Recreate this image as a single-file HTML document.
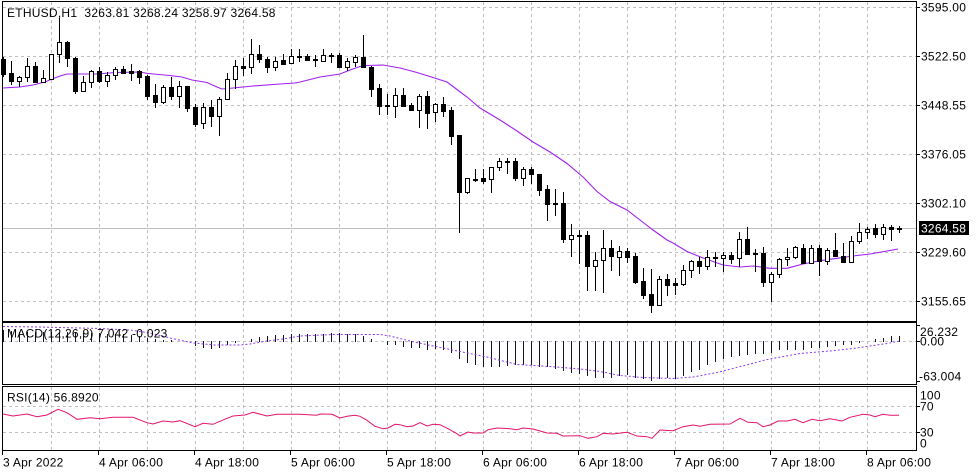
<!DOCTYPE html>
<html><head><meta charset="utf-8"><style>
html,body{margin:0;padding:0;background:#fff;}
svg{display:block;}
text{font-family:"Liberation Sans",Arial,sans-serif;font-size:12px;letter-spacing:.25px;fill:#000;}
.g{stroke:#c0c0c0;stroke-width:1;stroke-dasharray:3 3;fill:none;}
.w{fill:#fff;stroke:#000;stroke-width:1;}
</style></head><body>
<svg width="980" height="475" viewBox="0 0 980 475" xmlns="http://www.w3.org/2000/svg">
<rect width="980" height="475" fill="#fff"/>
<path class="g" d="M3 7.5H916M3 56.5H916M3 105.5H916M3 154.5H916M3 203.5H916M3 252.5H916M3 301.5H916"/>
<path class="g" d="M51.5 2V321M99.5 2V321M147.5 2V321M195.5 2V321M243.5 2V321M291.5 2V321M339.5 2V321M387.5 2V321M435.5 2V321M483.5 2V321M531.5 2V321M579.5 2V321M627.5 2V321M675.5 2V321M723.5 2V321M771.5 2V321M819.5 2V321M867.5 2V321"/>
<path class="g" d="M3 341.5H916"/>
<path class="g" d="M51.5 323V384M99.5 323V384M147.5 323V384M195.5 323V384M243.5 323V384M291.5 323V384M339.5 323V384M387.5 323V384M435.5 323V384M483.5 323V384M531.5 323V384M579.5 323V384M627.5 323V384M675.5 323V384M723.5 323V384M771.5 323V384M819.5 323V384M867.5 323V384"/>
<path class="g" d="M3 406.5H916M3 432.5H916"/>
<path class="g" d="M51.5 387V450M99.5 387V450M147.5 387V450M195.5 387V450M243.5 387V450M291.5 387V450M339.5 387V450M387.5 387V450M435.5 387V450M483.5 387V450M531.5 387V450M579.5 387V450M627.5 387V450M675.5 387V450M723.5 387V450M771.5 387V450M819.5 387V450M867.5 387V450"/>
<path d="M3 228.5H916" stroke="#c0c0c0" stroke-width="1"/>
<polyline fill="none" stroke="#a020f0" stroke-width="1.1" points="3,88 20,87 33,85 45,82 52,79 60,76 67,74 97,74 115,72.5 140,72 148,73.5 170,75.5 182,77 192,80 207,82.5 217,87 222,89 233,88 253,86 280,84 295,83 300,82 320,77 340,74 350,70 360,66.5 367,65.5 383,65 400,68 417,72.5 433,77.5 447,82 453,86.5 467,97 480,108 500,120 517,131 533,142 550,152 567,163.5 583,177 597,191.5 610,201.5 627,210 640,220 653,230 667,240 673,243 687,251.5 703,258 723,265 740,267 753,266 770,268.3 787,268.3 803,264 820,260.7 837,258.3 853,256 870,254 887,251 898,249"/>
<path stroke="#000" stroke-width="1" fill="none" d="M3.5 57V77M11.5 61V85M19.5 76V87M27.5 58V82M35.5 62V83M43.5 70V83M51.5 54V79M59.5 18V63M67.5 41V67M75.5 57V94M83.5 76V91M91.5 70V88M99.5 67V83M107.5 72V87M115.5 67V80M123.5 66V74M131.5 64V81M139.5 70V84M147.5 75V100M155.5 84V108M163.5 85V104M171.5 77V100M179.5 81V108M187.5 86V112M195.5 104V127M203.5 103V129M211.5 100V127M219.5 97V136M227.5 73V100M235.5 60V89M243.5 58V76M251.5 39V74M259.5 45V63M267.5 57V73M275.5 57V71M283.5 54V65M291.5 49V63M299.5 49V62M307.5 54V61M315.5 55V67M323.5 49V62M331.5 53V63M339.5 53V68M347.5 58V71M355.5 55V67M363.5 35V68M371.5 66V97M379.5 84V115M387.5 94V115M395.5 88V118M403.5 88V107M411.5 103V111M419.5 94V128M427.5 91V129M435.5 103V122M443.5 97V117M451.5 107V145M459.5 135V233M467.5 178V194M475.5 169V182M483.5 169V184M491.5 167V193M499.5 158V171M507.5 158V174M515.5 158V181M523.5 167V186M531.5 167V184M539.5 174V196M547.5 185V221M555.5 189V216M563.5 192V243M571.5 224V257M579.5 230V264M587.5 231V291M595.5 252V291M603.5 230V293M611.5 240V271M619.5 246V276M627.5 248V263M635.5 253V284M643.5 268V299M651.5 269V313M659.5 276V305M667.5 274V296M675.5 278V295M683.5 265V286M691.5 260V278M699.5 257V274M707.5 250V270M715.5 252V267M723.5 252V272M731.5 252V264M739.5 232V267M747.5 227V255M755.5 249V272M763.5 247V287M771.5 272V302M779.5 258V278M787.5 248V266M795.5 246V259M803.5 244V263M811.5 245V263M819.5 245V276M827.5 248V265M835.5 233V257M843.5 243V263M851.5 236V263M859.5 223V244M867.5 227V239M875.5 224V238M883.5 224V240M891.5 225V241M899.5 226V233"/>
<g fill="#000">
<rect x="1" y="59" width="5" height="16"/>
<rect x="9" y="73" width="5" height="9"/>
<rect x="33" y="66" width="5" height="17"/>
<rect x="65" y="42" width="5" height="17"/>
<rect x="73" y="58" width="5" height="34"/>
<rect x="97" y="71" width="5" height="11"/>
<rect x="121" y="69" width="5" height="5"/>
<rect x="129" y="71" width="5" height="3"/>
<rect x="137" y="71" width="5" height="7"/>
<rect x="145" y="76" width="5" height="21"/>
<rect x="153" y="95" width="5" height="8"/>
<rect x="169" y="87" width="5" height="10"/>
<rect x="185" y="86" width="5" height="23"/>
<rect x="193" y="107" width="5" height="18"/>
<rect x="209" y="107" width="5" height="10"/>
<rect x="241" y="66" width="5" height="3"/>
<rect x="257" y="54" width="5" height="6"/>
<rect x="265" y="59" width="5" height="9"/>
<rect x="281" y="60" width="5" height="5"/>
<rect x="297" y="56" width="5" height="2"/>
<rect x="305" y="56" width="5" height="5"/>
<rect x="313" y="59" width="5" height="2"/>
<rect x="329" y="55" width="5" height="2"/>
<rect x="337" y="55" width="5" height="13"/>
<rect x="361" y="57" width="5" height="11"/>
<rect x="369" y="67" width="5" height="23"/>
<rect x="377" y="88" width="5" height="19"/>
<rect x="385" y="105" width="5" height="2"/>
<rect x="401" y="95" width="5" height="12"/>
<rect x="409" y="105" width="5" height="6"/>
<rect x="425" y="96" width="5" height="18"/>
<rect x="441" y="104" width="5" height="8"/>
<rect x="449" y="110" width="5" height="27"/>
<rect x="457" y="135" width="5" height="58"/>
<rect x="473" y="179" width="5" height="2"/>
<rect x="481" y="178" width="5" height="4"/>
<rect x="505" y="161" width="5" height="2"/>
<rect x="513" y="161" width="5" height="18"/>
<rect x="529" y="169" width="5" height="6"/>
<rect x="537" y="174" width="5" height="17"/>
<rect x="545" y="189" width="5" height="16"/>
<rect x="553" y="203" width="5" height="2"/>
<rect x="561" y="203" width="5" height="37"/>
<rect x="577" y="235" width="5" height="2"/>
<rect x="585" y="235" width="5" height="32"/>
<rect x="609" y="248" width="5" height="9"/>
<rect x="625" y="251" width="5" height="7"/>
<rect x="633" y="256" width="5" height="27"/>
<rect x="641" y="281" width="5" height="15"/>
<rect x="649" y="294" width="5" height="12"/>
<rect x="665" y="279" width="5" height="7"/>
<rect x="673" y="283" width="5" height="3"/>
<rect x="697" y="261" width="5" height="6"/>
<rect x="713" y="257" width="5" height="2"/>
<rect x="729" y="255" width="5" height="5"/>
<rect x="745" y="239" width="5" height="16"/>
<rect x="753" y="253" width="5" height="2"/>
<rect x="761" y="253" width="5" height="30"/>
<rect x="801" y="248" width="5" height="16"/>
<rect x="817" y="248" width="5" height="14"/>
<rect x="833" y="250" width="5" height="7"/>
<rect x="841" y="256" width="5" height="7"/>
<rect x="873" y="228" width="5" height="7"/>
<rect x="889" y="227" width="5" height="3"/>
<rect x="897" y="228" width="5" height="2"/>
</g>
<g class="w">
<rect x="17.5" y="77.5" width="4" height="4"/>
<rect x="25.5" y="66.5" width="4" height="11"/>
<rect x="41.5" y="78.5" width="4" height="4"/>
<rect x="49.5" y="54.5" width="4" height="25"/>
<rect x="57.5" y="42.5" width="4" height="12"/>
<rect x="81.5" y="82.5" width="4" height="9"/>
<rect x="89.5" y="71.5" width="4" height="11"/>
<rect x="105.5" y="75.5" width="4" height="6"/>
<rect x="113.5" y="69.5" width="4" height="6"/>
<rect x="161.5" y="87.5" width="4" height="15"/>
<rect x="177.5" y="86.5" width="4" height="10"/>
<rect x="201.5" y="107.5" width="4" height="16"/>
<rect x="217.5" y="99.5" width="4" height="17"/>
<rect x="225.5" y="79.5" width="4" height="20"/>
<rect x="233.5" y="66.5" width="4" height="13"/>
<rect x="249.5" y="54.5" width="4" height="13"/>
<rect x="273.5" y="61.5" width="4" height="6"/>
<rect x="289.5" y="56.5" width="4" height="7"/>
<rect x="321.5" y="55.5" width="4" height="6"/>
<rect x="345.5" y="61.5" width="4" height="6"/>
<rect x="353.5" y="57.5" width="4" height="5"/>
<rect x="393.5" y="95.5" width="4" height="11"/>
<rect x="417.5" y="96.5" width="4" height="14"/>
<rect x="433.5" y="104.5" width="4" height="8"/>
<rect x="465.5" y="178.5" width="4" height="14"/>
<rect x="489.5" y="167.5" width="4" height="12"/>
<rect x="497.5" y="161.5" width="4" height="6"/>
<rect x="521.5" y="169.5" width="4" height="9"/>
<rect x="569.5" y="235.5" width="4" height="4"/>
<rect x="593.5" y="260.5" width="4" height="6"/>
<rect x="601.5" y="248.5" width="4" height="12"/>
<rect x="617.5" y="251.5" width="4" height="6"/>
<rect x="657.5" y="279.5" width="4" height="26"/>
<rect x="681.5" y="270.5" width="4" height="14"/>
<rect x="689.5" y="261.5" width="4" height="9"/>
<rect x="705.5" y="257.5" width="4" height="9"/>
<rect x="721.5" y="255.5" width="4" height="3"/>
<rect x="737.5" y="239.5" width="4" height="19"/>
<rect x="769.5" y="274.5" width="4" height="8"/>
<rect x="777.5" y="259.5" width="4" height="15"/>
<rect x="785.5" y="257.5" width="4" height="2"/>
<rect x="793.5" y="247.5" width="4" height="10"/>
<rect x="809.5" y="248.5" width="4" height="15"/>
<rect x="825.5" y="250.5" width="4" height="11"/>
<rect x="849.5" y="241.5" width="4" height="21"/>
<rect x="857.5" y="232.5" width="4" height="9"/>
<rect x="865.5" y="229.5" width="4" height="3"/>
<rect x="881.5" y="227.5" width="4" height="7"/>
</g>
<path stroke="#101028" stroke-width="1" fill="none" d="M3.5 342V330M11.5 342V331M19.5 342V332M27.5 342V332M35.5 342V332M43.5 342V332M51.5 342V332M59.5 342V332M67.5 342V332M75.5 342V332M83.5 342V333M91.5 342V333M99.5 342V333M107.5 342V334M115.5 342V334M123.5 342V334M131.5 342V335M139.5 342V336M147.5 342V338M155.5 342V339M163.5 342V340M171.5 342V340M195.5 341V346M203.5 341V348M211.5 341V349M219.5 341V348M227.5 341V345M235.5 341V343M251.5 342V339M259.5 342V337M267.5 342V336M275.5 342V335M283.5 342V335M291.5 342V334M299.5 342V334M307.5 342V334M315.5 342V334M323.5 342V334M331.5 342V333M339.5 342V333M347.5 342V334M355.5 342V334M363.5 342V336M371.5 342V339M387.5 341V345M395.5 341V345M403.5 341V347M411.5 341V348M419.5 341V348M427.5 341V350M435.5 341V349M443.5 341V350M451.5 341V353M459.5 341V359M467.5 341V363M475.5 341V365M483.5 341V367M491.5 341V367M499.5 341V367M507.5 341V366M515.5 341V365M523.5 341V365M531.5 341V365M539.5 341V367M547.5 341V367M555.5 341V369M563.5 341V371M571.5 341V373M579.5 341V374M587.5 341V376M595.5 341V378M603.5 341V378M611.5 341V378M619.5 341V376M627.5 341V375M635.5 341V378M643.5 341V379M651.5 341V381M659.5 341V379M667.5 341V378M675.5 341V379M683.5 341V376M691.5 341V372M699.5 341V370M707.5 341V365M715.5 341V362M723.5 341V359M731.5 341V357M739.5 341V356M747.5 341V355M755.5 341V354M763.5 341V354M771.5 341V353M779.5 341V350M787.5 341V350M795.5 341V350M803.5 341V350M811.5 341V348M819.5 341V348M827.5 341V347M835.5 341V346M843.5 341V345M851.5 341V345M859.5 341V343M875.5 342V339M883.5 342V338M891.5 342V336M899.5 342V336"/>
<polyline fill="none" stroke="#8a3cf0" stroke-width="1" stroke-dasharray="2 2" points="3,326.5 40,327 100,328.5 130,330 150,333 170,338 193,343 215,345 240,345 250,344 267,341 283,339 300,336 333,334.5 380,334.5 390,336 410,341 433,346 460,351.5 487,357 517,364.5 550,366.5 580,369 600,371.5 620,375.5 643,377.5 673,378.5 693,377 717,372.5 733,368.5 767,359.5 800,353.5 830,351 853,348.5 887,343.5 900,341"/>
<polyline fill="none" stroke="#e4146e" stroke-width="1" points="3,414 13,416 27,414 37,416.7 47,415 58,409.3 67,412.7 77,419.3 90,417.7 100,418.7 113,417.3 133,417.3 147,422.7 153,424 163,421 173,422 180,420.7 195,426.7 203,423.3 213,424.3 227,418.3 233,416 245,415 253,412.3 267,416 277,414.3 290,414.3 300,414.3 317,415.3 320,414 332,414.3 340,418 347,416.3 355,415.3 360,416.3 367,420.3 375,426.3 383,428.7 388,428 395,424.3 400,424.7 407,426.7 413,426 420,422.7 427,426 433,424.3 440,424.7 448,428.7 457,433.7 460,436 468,432 473,433 483,433 488,429.7 497,428 510,428.7 517,429.7 523,428 533,429 547,433 557,433.3 563,436 580,435.7 588,438.3 597,436.7 603,433.3 613,434 627,432.3 637,436 647,436.7 652,438.3 660,430 673,430.7 683,426.7 693,425 700,426.3 710,424.3 730,424 740,418.3 748,422.3 757,422.7 763,426.7 770,425 778,421 787,421 795,419.3 803,422.7 812,419.3 820,420.7 830,418.7 842,421 850,417.3 863,414.3 870,415 875,416.7 883,414.3 890,415.3 899,415.3"/>
<g fill="none" stroke="#000" stroke-width="1">
<rect x="2.5" y="1.5" width="914" height="320"/>
<rect x="2.5" y="322.5" width="914" height="62"/>
<rect x="2.5" y="386.5" width="914" height="64"/>
</g>
<path stroke="#000" stroke-width="1" d="M916 7.5H920M916 56.5H920M916 105.5H920M916 154.5H920M916 203.5H920M916 252.5H920M916 301.5H920M916 325.5H920M916 341.5H920M916 381.5H920M916 406.5H920M916 432.5H920M2.5 451V455M98.5 451V455M194.5 451V455M290.5 451V455M386.5 451V455M482.5 451V455M578.5 451V455M674.5 451V455M770.5 451V455M866.5 451V455"/>
<text x="7" y="16.8">ETHUSD,H1&#160; 3263.81 3268.24 3258.97 3264.58</text>
<text x="921" y="11.5">3595.00</text>
<text x="921" y="60.5">3522.50</text>
<text x="921" y="109.5">3448.55</text>
<text x="921" y="158.5">3376.05</text>
<text x="921" y="207.5">3302.10</text>
<text x="921" y="256.5">3229.60</text>
<text x="921" y="305.5">3155.65</text>
<rect x="919" y="221" width="50" height="14" fill="#000"/>
<text x="921" y="232.5" style="fill:#fff">3264.58</text>
<text x="7" y="337.5">MACD(12,26,9) 7.042 -0.023</text>
<text x="920" y="336">26.232</text>
<text x="920" y="345.7">0.00</text>
<text x="919" y="380.7">-63.004</text>
<text x="7" y="401.5">RSI(14) 56.8920</text>
<text x="920" y="399.3">100</text>
<text x="920" y="410.7">70</text>
<text x="920" y="436.7">30</text>
<text x="920" y="447.3">0</text>
<text x="3" y="466.7">3 Apr 2022</text>
<text x="99" y="466.7">4 Apr 06:00</text>
<text x="195" y="466.7">4 Apr 18:00</text>
<text x="291" y="466.7">5 Apr 06:00</text>
<text x="387" y="466.7">5 Apr 18:00</text>
<text x="483" y="466.7">6 Apr 06:00</text>
<text x="579" y="466.7">6 Apr 18:00</text>
<text x="675" y="466.7">7 Apr 06:00</text>
<text x="771" y="466.7">7 Apr 18:00</text>
<text x="867" y="466.7">8 Apr 06:00</text>
</svg>
</body></html>
